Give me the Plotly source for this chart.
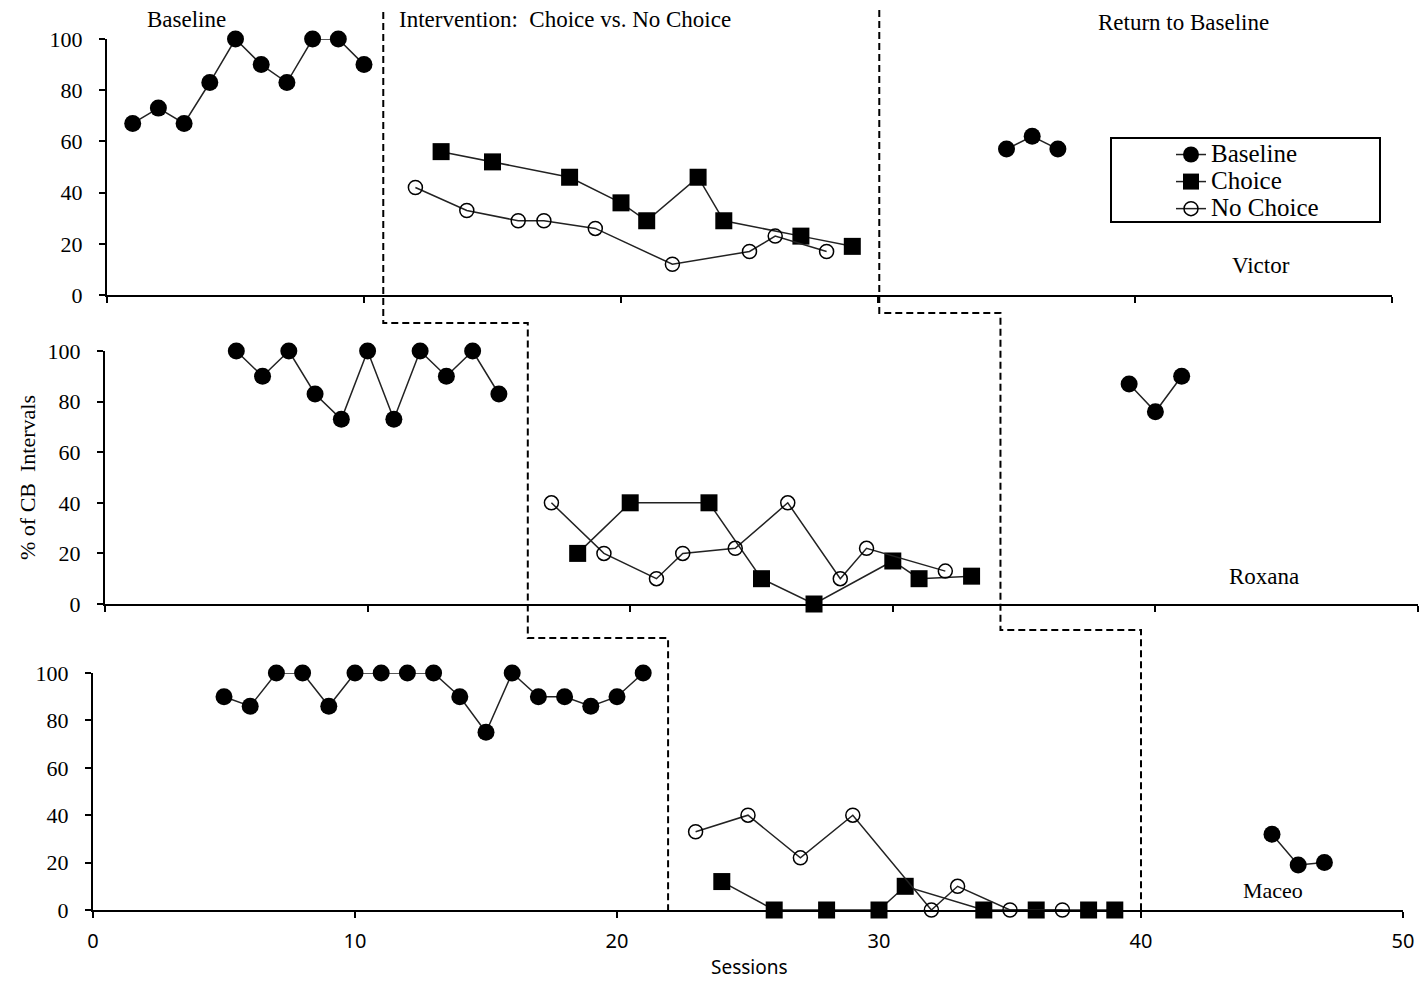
import plotly.graph_objects as go

W, H = 1422, 982

# ---------------- data ----------------
sessions_ticks = [0, 10, 20, 30, 40, 50]
pct_ticks = [0, 20, 40, 60, 80, 100]

# Victor
v_base_x = [1, 2, 3, 4, 5, 6, 7, 8, 9, 10]
v_base_y = [67, 73, 67, 83, 100, 90, 83, 100, 100, 90]
v_choice_x = [13, 15, 18, 20, 21, 23, 24, 27, 29]
v_choice_y = [56, 52, 46, 36, 29, 46, 29, 23, 19]
v_nochoice_x = [12, 14, 16, 17, 19, 22, 25, 26, 28]
v_nochoice_y = [42, 33, 29, 29, 26, 12, 17, 23, 17]
v_return_x = [35, 36, 37]
v_return_y = [57, 62, 57]

# Roxana
r_base_x = [5, 6, 7, 8, 9, 10, 11, 12, 13, 14, 15]
r_base_y = [100, 90, 100, 83, 73, 100, 73, 100, 90, 100, 83]
r_choice_x = [18, 20, 23, 25, 27, 30, 31, 33]
r_choice_y = [20, 40, 40, 10, 0, 17, 10, 11]
r_nochoice_x = [17, 19, 21, 22, 24, 26, 28, 29, 32]
r_nochoice_y = [40, 20, 10, 20, 22, 40, 10, 22, 13]
r_return_x = [39, 40, 41]
r_return_y = [87, 76, 90]

# Maceo
m_base_x = [5, 6, 7, 8, 9, 10, 11, 12, 13, 14, 15, 16, 17, 18, 19, 20, 21]
m_base_y = [90, 86, 100, 100, 86, 100, 100, 100, 100, 90, 75, 100, 90, 90, 86, 90, 100]
m_choice_x = [24, 26, 28, 30, 31, 34, 36, 38, 39]
m_choice_y = [12, 0, 0, 0, 10, 0, 0, 0, 0]
m_nochoice_x = [23, 25, 27, 29, 32, 33, 35, 37]
m_nochoice_y = [33, 40, 22, 40, 0, 10, 0, 0]
m_return_x = [45, 46, 47]
m_return_y = [32, 19, 20]

participants = ["Victor", "Roxana", "Maceo"]
series_names = ["Baseline", "Choice", "No Choice"]
phase1_session = [10.75, 16.1, 21.95]
phase2_session = [30.05, 34.1, 40.0]

# ---------------- layout geometry (pixels) ----------------
panels_px = [  # x0, x1, ytop(100), ybottom(0)
    (107, 1392, 39, 295),
    (105, 1418, 351, 604),
    (93, 1403, 673, 910),
]


def px2paper_x(px):
    return px / W


def px2paper_y(py):
    return 1 - py / H


def session_px(i, s):
    x0, x1, _, _ = panels_px[i]
    return x0 + (s - sessions_ticks[0]) / (sessions_ticks[-1] - sessions_ticks[0]) * (x1 - x0)


def legend_label(name):
    return f'<span style="font-size:25px">{name}</span>'


fig = go.Figure()

line_style = dict(color="#222222", width=1.5)
base_marker = dict(symbol="circle", size=17, color="black")
choice_marker = dict(symbol="square", size=17, color="black")
nochoice_marker = dict(symbol="circle-open", size=14, color="black", line=dict(width=1.5))

data_sets = [
    (v_base_x, v_base_y, v_choice_x, v_choice_y, v_nochoice_x, v_nochoice_y, v_return_x, v_return_y),
    (r_base_x, r_base_y, r_choice_x, r_choice_y, r_nochoice_x, r_nochoice_y, r_return_x, r_return_y),
    (m_base_x, m_base_y, m_choice_x, m_choice_y, m_nochoice_x, m_nochoice_y, m_return_x, m_return_y),
]

for i, (bx, by, cx, cy, nx, ny, rx, ry) in enumerate(data_sets):
    xa = "x" if i == 0 else f"x{i+1}"
    ya = "y" if i == 0 else f"y{i+1}"
    first = i == 0
    fig.add_trace(go.Scatter(x=bx, y=by, mode="lines+markers", name=legend_label(series_names[0]),
                             line=line_style, marker=base_marker, xaxis=xa, yaxis=ya,
                             legendgroup="b", showlegend=first, cliponaxis=False))
    fig.add_trace(go.Scatter(x=cx, y=cy, mode="lines+markers", name=legend_label(series_names[1]),
                             line=line_style, marker=choice_marker, xaxis=xa, yaxis=ya,
                             legendgroup="c", showlegend=first, cliponaxis=False))
    fig.add_trace(go.Scatter(x=nx, y=ny, mode="lines+markers", name=legend_label(series_names[2]),
                             line=line_style, marker=nochoice_marker, xaxis=xa, yaxis=ya,
                             legendgroup="n", showlegend=first, cliponaxis=False))
    fig.add_trace(go.Scatter(x=rx, y=ry, mode="lines+markers", name=legend_label(series_names[0]),
                             line=line_style, marker=base_marker, xaxis=xa, yaxis=ya,
                             legendgroup="b", showlegend=False, cliponaxis=False))

axis_common = dict(showline=True, linecolor="black", linewidth=2, ticks="outside",
                   ticklen=6, tickwidth=2, tickcolor="black", showgrid=False,
                   zeroline=False, fixedrange=True, automargin=False)

layout_axes = {}
for i, (x0, x1, yt, yb) in enumerate(panels_px):
    sfx = "" if i == 0 else str(i + 1)
    layout_axes[f"xaxis{sfx}"] = dict(
        axis_common, domain=[px2paper_x(x0), px2paper_x(x1)],
        range=[sessions_ticks[0], sessions_ticks[-1]], tickvals=sessions_ticks,
        ticktext=[str(t) for t in sessions_ticks],
        showticklabels=(i == 2), anchor=f"y{sfx}",
        tickfont=dict(family="Noto Sans", size=20, color="black"),
        ticklabelstandoff=6,
    )
    layout_axes[f"yaxis{sfx}"] = dict(
        axis_common, domain=[px2paper_y(yb), px2paper_y(yt)],
        range=[pct_ticks[0], pct_ticks[-1]], tickvals=pct_ticks,
        ticktext=[str(t) for t in pct_ticks], anchor=f"x{sfx}",
        tickfont=dict(family="Liberation Serif", size=22, color="black"),
        ticklabelstandoff=12,
    )

# phase change lines (dashed steps)
def step_path(sessions, y_top, y_mid1, y_mid2):
    xs = [px2paper_x(session_px(i, s)) for i, s in enumerate(sessions)]
    pts = [
        (xs[0], px2paper_y(y_top)),
        (xs[0], px2paper_y(y_mid1)),
        (xs[1], px2paper_y(y_mid1)),
        (xs[1], px2paper_y(y_mid2)),
        (xs[2], px2paper_y(y_mid2)),
        (xs[2], px2paper_y(panels_px[2][3])),
    ]
    return "M " + " L ".join(f"{x:.5f},{y:.5f}" for x, y in pts)


shapes = [
    dict(type="path", xref="paper", yref="paper",
         path=step_path(phase1_session, 12, 323, 638),
         line=dict(color="black", width=2, dash="7px,4px")),
    dict(type="path", xref="paper", yref="paper",
         path=step_path(phase2_session, 10, 313, 630),
         line=dict(color="black", width=2, dash="7px,4px")),
    dict(type="rect", xref="paper", yref="paper",
         x0=px2paper_x(1111), x1=px2paper_x(1380), y0=px2paper_y(222), y1=px2paper_y(138),
         line=dict(color="black", width=2)),
]

serif = "Liberation Serif"
annotations = [
    dict(text="Baseline", x=px2paper_x(186), y=px2paper_y(20), xanchor="center", yanchor="middle",
         font=dict(family=serif, size=23, color="black")),
    dict(text="Intervention:  Choice vs. No Choice", x=px2paper_x(397), y=px2paper_y(20),
         xanchor="left", yanchor="middle", font=dict(family=serif, size=23, color="black")),
    dict(text="Return to Baseline", x=px2paper_x(1183), y=px2paper_y(22), xanchor="center",
         yanchor="middle", font=dict(family=serif, size=23, color="black")),
    dict(text=participants[0], x=px2paper_x(1261), y=px2paper_y(265), xanchor="center",
         yanchor="middle", font=dict(family=serif, size=23, color="black")),
    dict(text=participants[1], x=px2paper_x(1264), y=px2paper_y(576), xanchor="center",
         yanchor="middle", font=dict(family=serif, size=23, color="black")),
    dict(text=participants[2], x=px2paper_x(1273), y=px2paper_y(890), xanchor="center",
         yanchor="middle", font=dict(family=serif, size=22, color="black")),
    dict(text="% of CB  Intervals", x=px2paper_x(27), y=px2paper_y(478), xanchor="center",
         yanchor="middle", textangle=-90, font=dict(family=serif, size=22, color="black")),
    dict(text="Sessions", x=px2paper_x(749), y=px2paper_y(967), xanchor="center", yanchor="middle",
         font=dict(family="Noto Sans", size=19, color="black")),
]
for a in annotations:
    a.update(xref="paper", yref="paper", showarrow=False)

fig.update_layout(
    width=W, height=H, margin=dict(l=0, r=0, t=0, b=0, autoexpand=False),
    paper_bgcolor="white", plot_bgcolor="white",
    shapes=shapes, annotations=annotations,
    showlegend=True,
    legend=dict(x=px2paper_x(1171), y=px2paper_y(136), xanchor="left", yanchor="top",
                bgcolor="rgba(0,0,0,0)", borderwidth=0, tracegroupgap=0,
                font=dict(family=serif, size=18.5, color="black"), traceorder="normal"),
    **layout_axes,
)

fig.write_html(
    "out.html",
    config={"displayModeBar": False},
    post_script="document.body.style.margin='0';document.body.style.overflow='hidden';",
)
